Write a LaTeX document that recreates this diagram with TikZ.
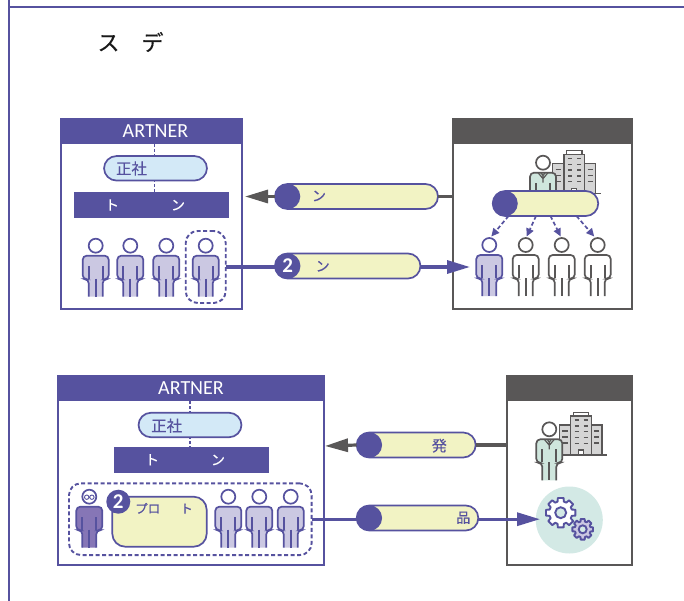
\documentclass[tikz,border=0pt]{standalone}
\usepackage{xcolor}
\usepackage{fontspec}
\setmainfont{Noto Sans CJK JP}
\newfontfamily\latinfont{Carlito}
\newfontfamily\gruesa{Noto Sans CJK JP}[FakeBold=0.4]
\usepackage{tikz}
\usetikzlibrary{arrows.meta}

\definecolor{partner}{HTML}{56529F}
\definecolor{oscuro}{HTML}{595757}
\definecolor{crema}{HTML}{F2F3C4}
\definecolor{celeste}{HTML}{D3E9F7}
\definecolor{lavanda}{HTML}{CBC8E2}
\definecolor{violeta}{HTML}{8676B6}
\definecolor{menta}{HTML}{CFE6DD}
\definecolor{turquesa}{HTML}{D3E9E5}
\definecolor{gris}{HTML}{D5D5D5}

\tikzset{
    caja/.style={rectangle, draw, line width=2.4pt, inner sep=0, outer sep=0},
    cabecera/.style={rectangle, fill=#1, text=white, minimum height=26pt, inner sep=0, outer sep=0, font=\latinfont\fontsize{20}{20}\selectfont},
    banda/.style={rectangle, fill=partner, text=white, minimum width=155pt, minimum height=26pt, inner sep=0, outer sep=0, font=\gruesa\fontsize{14}{14}\selectfont},
    capsula/.style={rectangle, draw=partner, fill=crema, line width=1.7pt, rounded corners=12.5pt, minimum height=25pt, inner sep=0, outer sep=0},
    socio/.style={capsula, fill=celeste, minimum width=103pt, minimum height=24.5pt},
    punta/.style={circle, fill=partner, text=white, minimum size=25.5pt, inner sep=0, outer sep=0, font=\latinfont\bfseries\fontsize{21}{21}\selectfont},
    rotulo/.style={text=partner, inner sep=0, font=\gruesa\fontsize{14}{14}\selectfont},
    cabeza/.style={circle, draw=#1, line width=1.7pt, minimum size=14pt, inner sep=0, outer sep=0},
    grupo/.style={rectangle, draw=partner, dashed, dash pattern=on 4pt off 2.5pt, line width=1.9pt, rounded corners=12pt, inner sep=0, outer sep=0},
    eje/.style={draw=partner, dashed, dash pattern=on 3pt off 2pt, line width=1.5pt},
    flecha/.style={draw=#1, line width=3.2pt, -{Triangle[length=23pt,width=13pt]}},
    linea/.style={draw=#1, line width=3.2pt},
    reparto/.style={draw=partner, dashed, dash pattern=on 4pt off 2.5pt, line width=1.7pt, -{Triangle[length=8pt,width=7.5pt]}},
    edificio/.style={draw=oscuro, fill=gris, line width=1.4pt},
    ventana/.style={draw=oscuro, line width=1.1pt}
}

\newcommand{\persona}[5]{
    \node (#1) [cabeza=#4, fill=white] at (#2,#3) {};
    \begin{scope}[shift={(#2,#3)}]
        \draw[draw=#4, fill=#5, line width=1.7pt, rounded corners=4pt] (-7,51) -- (-7,33.5) -- (-13,33.5) -- (-13,10) -- (13,10) -- (13,33.5) -- (7,33.5) -- (7,51);
        \draw[draw=#4, line width=1.7pt] (-7,33) -- (-7,20) (7,33) -- (7,20) (0,33) -- (0,51);
    \end{scope}
}
\newcommand{\ejecutivo}[3]{
    \persona{#1}{#2}{#3}{oscuro}{menta}
    \begin{scope}[shift={(#2,#3)}]
        \draw[draw=oscuro, line width=1.2pt] (-5,10) -- (0,16) -- (5,10) (-2,10) -- (0,13) -- (2,10) (0,13) -- (0,20);
    \end{scope}
}
\newcommand{\oficina}[2]{
    \begin{scope}[shift={(#1,#2)}]
        \draw[edificio] (-11.3,9) rectangle (0,39);
        \draw[edificio] (20.7,9) rectangle (31.3,39);
        \draw[edificio, fill=white] (2.7,-3.6) rectangle (18,0);
        \draw[edificio] (0,0) rectangle (20.7,39);
        \draw[edificio, fill=white] (7.5,34) rectangle (12.5,39);
        \draw[draw=oscuro, line width=1.3pt] (-11.3,39) -- (36.6,39);
        \foreach \fila in {4,10,15.7,21.7,27.3} {
            \draw[ventana] (4,\fila) -- (8,\fila) (13,\fila) -- (17,\fila);
        }
        \foreach \fila in {15,21,27} {
            \draw[ventana] (-8.5,\fila) -- (-3,\fila) (23.5,\fila) -- (28.5,\fila);
        }
    \end{scope}
}
\newcommand{\engranaje}[6]{
    \begin{scope}[shift={(#1,#2)}]
        \draw[draw=partner, fill=#6, line width=1.9pt, line join=round] (11:#3) \foreach \a in {0,45,...,315} { -- (\a+11:#3) -- (\a+16:#4) -- (\a+29:#4) -- (\a+34:#3) } -- cycle;
        \draw[draw=partner, fill=turquesa, line width=1.9pt] (0,0) circle[radius=#5];
    \end{scope}
}

\begin{document}
\begin{tikzpicture}[x=1pt, y=-1pt]
        \useasboundingbox (0,0) rectangle (684,601);

        \draw[draw=partner, line width=1.5pt] (9,0) -- (9,601) (9,7) -- (684,7);
        \node (titulo) [inner sep=0, text=black!90, font=\gruesa\fontsize{22}{22}\selectfont] at (130.5,42) {ス　デ};

        % upper partner
        \node (cajaA) [caja, draw=partner, minimum width=181pt, minimum height=190pt] at (151.5,214) {};
        \node (partnerA) [cabecera=partner, minimum width=183pt] at (151.5,131) {\hspace{8pt}ARTNER};
        \node (bandaA) [banda] at (151.5,205) {ト\hspace{52pt}ン\kern13pt};
        \coordinate (ejeA) at (154.5,168);
        \draw[eje] (ejeA |- partnerA.south) -- (ejeA |- bandaA.north);
        \node (socioA) [socio] at (155.5,168.3) {};
        \node (socioTextoA) [rotulo, font=\gruesa\fontsize{15.5}{16}\selectfont] at (131.5,168.5) {正社};
        \persona{pA1}{95.7}{245.7}{partner}{lavanda}
        \persona{pA2}{130.3}{245.7}{partner}{lavanda}
        \persona{pA3}{166.3}{245.7}{partner}{lavanda}
        \persona{pA4}{205.7}{245.7}{partner}{lavanda}
        \node (grupoA) [grupo, minimum width=40pt, minimum height=72pt] at (205.7,267) {};

        % upper client
        \node (cajaB) [caja, draw=oscuro, line width=2.8pt, minimum width=179pt, minimum height=190pt] at (542.5,214) {};
        \node (clienteB) [cabecera=oscuro, minimum width=181pt] at (542.5,131) {};
        \oficina{564}{154.3}
        \ejecutivo{jefeB}{543}{162.7}
        \node (contratoB) [capsula, minimum width=105.5pt] at (545.5,203.5) {};
        \node (puntaB) [punta] at (505,203.5) {};
        \persona{pB1}{489.3}{245}{partner}{lavanda}
        \persona{pB2}{525.7}{245}{oscuro}{white}
        \persona{pB3}{561.7}{245}{oscuro}{white}
        \persona{pB4}{597.7}{245}{oscuro}{white}
        \draw[reparto] ([xshift=-37pt]contratoB.south) -- ([xshift=2pt,yshift=1.5pt]pB1.north);
        \draw[reparto] ([xshift=-9.5pt]contratoB.south) -- ([xshift=1pt,yshift=1.5pt]pB2.north);
        \draw[reparto] ([xshift=5pt]contratoB.south) -- ([xshift=-1pt,yshift=1.5pt]pB3.north);
        \draw[reparto] ([xshift=31pt]contratoB.south) -- ([xshift=-3.5pt,yshift=1.5pt]pB4.north);

        % upper connectors
        \node (pedidoB) [capsula, minimum width=163pt] at (356.5,196.5) {};
        \node (puntaPedidoB) [punta] at (287.5,196.5) {};
        \node (textoPedidoB) [rotulo] at (319,196) {ン};
        \coordinate (tipA) at (245,196.5);
        \draw[linea=oscuro] (pedidoB.east -| cajaB.west) -- (pedidoB.east);
        \draw[flecha=oscuro] (pedidoB.west) -- (tipA);
        \node (entregaA) [capsula, minimum width=145.5pt] at (347.7,266) {};
        \node (puntaEntregaA) [punta] at (287.7,266) {2};
        \node (textoEntregaA) [rotulo] at (322.7,266.3) {ン};
        \coordinate (tipB) at (470,267);
        \draw[linea=partner] (grupoA.east) -- (grupoA.east -| entregaA.west);
        \draw[flecha=partner] (grupoA.east -| entregaA.east) -- (tipB);

        % lower partner
        \node (cajaC) [caja, draw=partner, minimum width=266pt, minimum height=189pt] at (191,470.5) {};
        \node (partnerC) [cabecera=partner, minimum width=268pt] at (191,388) {ARTNER};
        \node (bandaC) [banda] at (191.5,459.8) {ト\hspace{52pt}ン\kern13pt};
        \coordinate (ejeC) at (190,425);
        \draw[eje] (ejeC |- partnerC.south) -- (ejeC |- bandaC.north);
        \node (socioC) [socio] at (190,425) {};
        \node (socioTextoC) [rotulo, font=\gruesa\fontsize{15.5}{16}\selectfont] at (166.7,425.7) {正社};
        \node (grupoC) [grupo, minimum width=242.7pt, minimum height=71.7pt] at (190.3,519.2) {};
        \persona{pC1}{89.3}{496.7}{partner}{violeta}
        \draw[draw=partner, line width=0.9pt] (86.7,497.2) circle[radius=2.2] (91.9,497.2) circle[radius=2.2];
        \node (proyectoC) [capsula, rounded corners=13pt, minimum width=94.4pt, minimum height=50pt] at (159.5,521.7) {};
        \node (textoProyectoC) [rotulo, font=\gruesa\fontsize{12.5}{12.5}\selectfont] at (164,508.3) {プロ\hspace{20pt}ト};
        \node (puntaProyectoC) [punta, minimum size=24pt] at (118.3,501.7) {2};
        \persona{pC2}{228.3}{496.7}{partner}{lavanda}
        \persona{pC3}{259.3}{496.7}{partner}{lavanda}
        \persona{pC4}{290.7}{496.7}{partner}{lavanda}

        % lower client
        \node (cajaD) [caja, draw=oscuro, line width=2.8pt, minimum width=125pt, minimum height=189pt] at (569.5,470.5) {};
        \node (clienteD) [cabecera=oscuro, minimum width=127pt] at (569.5,388) {};
        \oficina{570.7}{416}
        \ejecutivo{jefeD}{549.3}{429.3}
        \node (fondoD) [circle, fill=turquesa, minimum size=67pt, inner sep=0, outer sep=0] at (569.3,520) {};
        \engranaje{560.7}{512.7}{15}{11.5}{5.5}{white}
        \engranaje{582.7}{529.3}{10.5}{8}{4}{lavanda}

        % lower connectors
        \node (encargoD) [capsula, minimum width=119pt] at (416.2,445) {};
        \node (puntaEncargoD) [punta] at (369.3,445) {};
        \node (textoEncargoD) [rotulo, font=\gruesa\fontsize{15}{15}\selectfont] at (439.3,445.7) {発};
        \coordinate (tipC) at (325,446);
        \draw[linea=oscuro] (encargoD.east -| cajaD.west) -- (encargoD.east);
        \draw[flecha=oscuro] (encargoD.west) -- (tipC);
        \node (productoC) [capsula, minimum width=121.6pt] at (417.5,518) {};
        \node (puntaProductoC) [punta] at (369.3,518) {};
        \node (textoProductoC) [rotulo] at (463.3,517.7) {品};
        \coordinate (tipD) at (540,519.2);
        \draw[linea=partner] (grupoC.east) -- (grupoC.east -| productoC.west);
        \draw[flecha=partner] (grupoC.east -| productoC.east) -- (tipD);
    \end{tikzpicture}
\end{document}
